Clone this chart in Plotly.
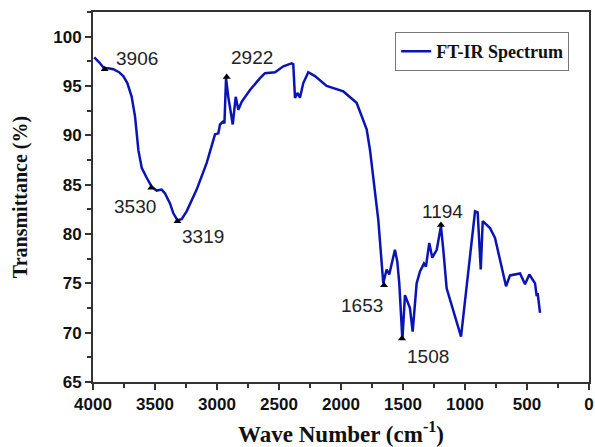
import plotly.graph_objects as go

# Spectrum data (wave number cm^-1, transmittance %)
wavenumber = [3990, 3950, 3911, 3877, 3836, 3790, 3756, 3723, 3688, 3661, 3634, 3607, 3567,
              3527, 3487, 3446, 3419, 3379, 3352, 3320, 3285, 3245, 3164, 3083, 3016, 2989,
              2976, 2949, 2940, 2927, 2909, 2873, 2849, 2828, 2801, 2734, 2653, 2613, 2532,
              2465, 2398, 2385, 2371, 2349, 2331, 2304, 2264, 2210, 2116, 2035, 1981, 1874,
              1793, 1766, 1739, 1699, 1659, 1632, 1611, 1565, 1546, 1530, 1505, 1484, 1444,
              1422, 1390, 1363, 1331, 1315, 1288, 1264, 1228, 1194, 1175, 1148, 1032, 919,
              898, 873, 857, 798, 758, 669, 637, 556, 516, 481, 435, 422, 414, 395]
transmittance = [97.9, 97.4, 96.8, 96.8, 96.7, 96.4, 96.0, 95.3, 93.9, 91.9, 88.5, 86.7, 85.7,
                 84.8, 84.4, 84.5, 84.1, 83.1, 82.1, 81.4, 81.5, 82.3, 84.5, 87.2, 90.1, 90.2,
                 91.1, 91.4, 91.2, 95.8, 93.9, 91.1, 93.9, 92.6, 93.4, 94.6, 95.8, 96.3, 96.4,
                 97.0, 97.3, 97.2, 93.8, 94.3, 93.8, 95.3, 96.4, 96.0, 95.0, 94.7, 94.45, 93.3,
                 90.6, 88.5, 85.5, 81.4, 75.0, 76.4, 75.9, 78.4, 77.2, 75.0, 69.3, 73.8, 72.5,
                 70.1, 75.0, 76.2, 77.0, 76.7, 79.1, 77.6, 78.4, 80.8, 78.4, 74.5, 69.6, 82.3,
                 82.2, 76.4, 81.3, 80.6, 79.6, 74.7, 75.8, 76.0, 74.9, 75.9, 75.0, 73.7, 74.0, 72.0]

# Marked peaks
peak_wn = [3906, 3530, 3319, 2922, 1653, 1508, 1194]
peak_t = [96.7, 84.7, 81.3, 95.9, 74.8, 69.4, 80.9]
peak_labels = ["3906", "3530", "3319", "2922", "1653", "1508", "1194"]
label_dx = [32, -16, 26, 25, -22, 26, 2]
label_dy = [11, -19, -15, 20, -20, -18, 14]

x_ticks = [4000, 3500, 3000, 2500, 2000, 1500, 1000, 500, 0]
y_ticks = [65, 70, 75, 80, 85, 90, 95, 100]

fig = go.Figure()
fig.add_trace(go.Scatter(x=wavenumber, y=transmittance, mode="lines",
                         line=dict(color="#0a14b4", width=2.5),
                         name="<b>FT-IR Spectrum</b>"))
fig.add_trace(go.Scatter(x=peak_wn, y=peak_t, mode="markers",
                         marker=dict(symbol="triangle-up", size=7, color="black"),
                         showlegend=False, hoverinfo="skip"))

for wn, t, lab, dx, dy in zip(peak_wn, peak_t, peak_labels, label_dx, label_dy):
    fig.add_annotation(x=wn, y=t, text=lab, showarrow=False, xshift=dx, yshift=dy,
                       font=dict(family="Arial, Liberation Sans", size=19, color="#222"))

axis_common = dict(showline=True, linecolor="#333", linewidth=2, mirror=True,
                   ticks="outside", ticklen=6, tickwidth=1.5, tickcolor="#333",
                   showgrid=False, zeroline=False, automargin=False,
                   tickfont=dict(family="Arial, Liberation Sans", size=17, color="#111"),
                   minor=dict(ticks="outside", ticklen=4, tickwidth=1.5, tickcolor="#333"))

fig.update_xaxes(range=[4000, 0], tickvals=x_ticks,
                 ticktext=[f"<b>{v}</b>" for v in x_ticks],
                 minor_dtick=250,
                 title=dict(text="<b>Wave Number (cm<sup>-1</sup>)</b>",
                            font=dict(family="Times New Roman, Liberation Serif", size=23, color="#111"),
                            standoff=15),
                 **axis_common)
fig.update_yaxes(range=[65, 102.5], tickvals=y_ticks,
                 ticktext=[f"<b>{v}</b>" for v in y_ticks],
                 minor_dtick=2.5, minor_tick0=65,
                 title=dict(text="<b>Transmittance (%)</b>",
                            font=dict(family="Times New Roman, Liberation Serif", size=20, color="#111"),
                            standoff=20),
                 **axis_common)

fig.update_layout(width=595, height=447,
                  margin=dict(l=93, r=6, t=12, b=65),
                  paper_bgcolor="white", plot_bgcolor="white",
                  legend=dict(x=0.96, y=0.946, xanchor="right", yanchor="top",
                              bordercolor="#777", borderwidth=1, bgcolor="white",
                              font=dict(family="Times New Roman, Liberation Serif", size=18, color="#111"),
                              itemwidth=30),
                  showlegend=True)

fig.write_html("out.html")
